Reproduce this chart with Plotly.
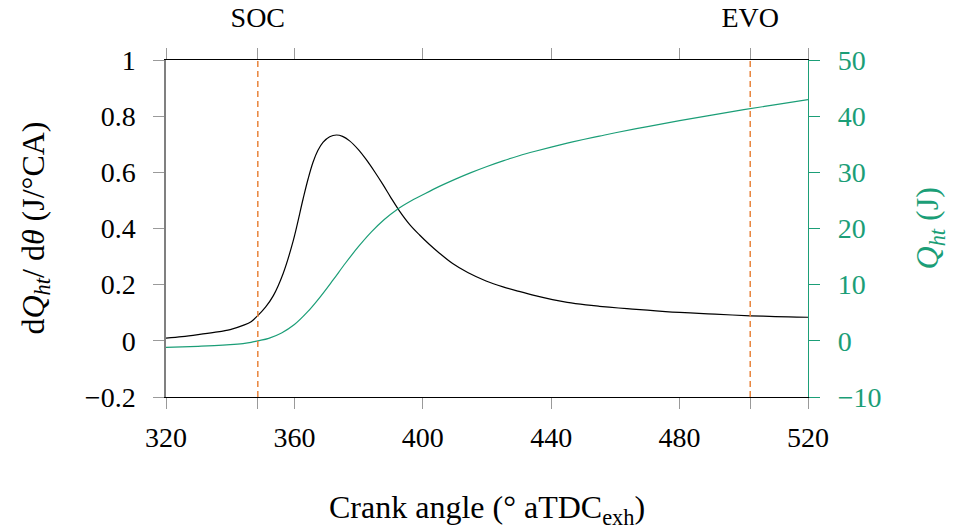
import plotly.graph_objects as go

# Crank angle grid and heat-transfer rate dQ_ht/dθ (J/°CA)
theta_rate = [320, 325, 330, 335, 340, 344, 346.5, 348.6, 351, 353.4, 356.5, 359.6,
              362.7, 364.3, 365.8, 367.3, 368.9, 371, 373.1, 375, 377.2, 380, 382.4,
              385, 387.6, 390, 392.7, 396, 399, 402, 405.2, 409.3, 414, 419.7, 425,
              430, 435, 440.4, 445, 450.8, 455, 461, 465.3, 470, 475.6, 480, 486, 491,
              496.4, 502, 508, 514, 520]
rate = [0.010, 0.015, 0.022, 0.030, 0.040, 0.055, 0.068, 0.090, 0.120, 0.160, 0.240,
        0.355, 0.505, 0.578, 0.636, 0.678, 0.707, 0.727, 0.733, 0.728, 0.712, 0.680,
        0.645, 0.602, 0.556, 0.511, 0.463, 0.413, 0.377, 0.344, 0.312, 0.275, 0.243,
        0.213, 0.192, 0.176, 0.161, 0.147, 0.137, 0.128, 0.123, 0.117, 0.113, 0.109,
        0.104, 0.101, 0.098, 0.095, 0.092, 0.089, 0.087, 0.085, 0.084]

# Cumulative heat transfer Q_ht (J)
theta_cum = [320, 325, 330, 335, 340, 344, 346.5, 348.6, 352, 356, 360, 364, 368, 372,
             376, 380, 384, 388, 392, 396, 400, 405, 410, 415, 420, 425, 430, 435, 440,
             445, 450, 455, 460, 470, 480, 490, 500, 510, 520]
q_cum = [-1.16, -1.07, -0.97, -0.85, -0.68, -0.48, -0.28, 0.0, 0.45, 1.4, 2.9, 5.1,
         7.8, 10.8, 13.9, 16.8, 19.4, 21.6, 23.4, 24.8, 26.0, 27.45, 28.75, 29.95,
         31.05, 32.05, 32.95, 33.75, 34.5, 35.2, 35.85, 36.45, 37.05, 38.15, 39.2,
         40.2, 41.15, 42.05, 42.95]

# Event markers: start of combustion and exhaust valve opening
soc_angle = 348.6
evo_angle = 502.0
event_angles = [soc_angle, evo_angle]
event_labels = ["SOC", "EVO"]

x_ticks = [320, 360, 400, 440, 480, 520]
x_tick_text = ["320", "360", "400", "440", "480", "520"]
y_left_ticks = [-0.2, 0, 0.2, 0.4, 0.6, 0.8, 1]
y_left_text = ["\u22120.2", "0", "0.2", "0.4", "0.6", "0.8", "1"]
y_right_ticks = [-10, 0, 10, 20, 30, 40, 50]
y_right_text = ["\u221210", "0", "10", "20", "30", "40", "50"]

FONT = "Liberation Serif"
GREEN = "#1b9e77"
ORANGE = "#e8843c"
TICK_GRAY = "#9a9a9a"
FS = 28
TITLE_FS = 32

fig = go.Figure()
fig.add_trace(go.Scatter(x=theta_rate, y=rate, mode="lines",
                         line=dict(color="black", width=1.2, shape="spline", smoothing=1.0),
                         xaxis="x", yaxis="y", showlegend=False))
fig.add_trace(go.Scatter(x=theta_cum, y=q_cum, mode="lines",
                         line=dict(color=GREEN, width=1.2, shape="spline", smoothing=1.0),
                         xaxis="x", yaxis="y2", showlegend=False))

for ang in event_angles:
    fig.add_shape(type="line", xref="x", yref="paper", x0=ang, x1=ang, y0=0, y1=1,
                  line=dict(color=ORANGE, width=1.5, dash="6px,4px"))

tick_style = dict(ticks="outside", ticklen=11, tickcolor=TICK_GRAY, tickwidth=1.3)
common_x = dict(range=[320, 520], showline=True, linecolor="black", linewidth=1.3,
                showgrid=False, zeroline=False, automargin=False,
                tickfont=dict(family=FONT, size=FS, color="black"), **tick_style)

fig.update_layout(
    width=959, height=532,
    margin=dict(l=166, r=151, t=60, b=135),
    paper_bgcolor="white", plot_bgcolor="white",
    font=dict(family=FONT, size=FS, color="black"),
    # bottom axis: numeric labels, unlabeled ticks at the event angles
    xaxis=dict(**common_x, tickvals=x_ticks, ticktext=x_tick_text, ticklabelstandoff=4,
               minor=dict(tickvals=event_angles, **tick_style)),
    # top axis: event labels, unlabeled ticks at the regular angles
    xaxis2=dict(**common_x, tickvals=event_angles, ticktext=event_labels,
                overlaying="x", side="top", anchor="y", ticklabelstandoff=10,
                minor=dict(tickvals=x_ticks, **tick_style)),
    yaxis=dict(range=[-0.2, 1], tickvals=y_left_ticks, ticktext=y_left_text,
               showline=True, linecolor="#808080", linewidth=1.5, showgrid=False,
               zeroline=False, ticklabelstandoff=12, automargin=False,
               tickfont=dict(family=FONT, size=FS, color="black"), **tick_style),
    yaxis2=dict(range=[-10, 50], tickvals=y_right_ticks, ticktext=y_right_text,
                overlaying="y", side="right", anchor="x",
                ticks="outside", ticklen=11, tickcolor=GREEN, tickwidth=1.3,
                showline=True, linecolor=GREEN, linewidth=1.3, showgrid=False,
                zeroline=False, ticklabelstandoff=12, automargin=False,
                tickfont=dict(family=FONT, size=FS, color=GREEN)),
)

# Hidden trace so the top axis is drawn
fig.add_trace(go.Scatter(x=[320, 520], y=[None, None], xaxis="x2", yaxis="y",
                         showlegend=False, hoverinfo="skip"))

fig.add_annotation(text="Crank angle (\u00b0 aTDC<sub>exh</sub>)", xref="paper", yref="paper",
                   x=0.5, y=-0.335, xanchor="center", yanchor="middle", showarrow=False,
                   font=dict(family=FONT, size=TITLE_FS))
fig.add_annotation(text="d<i>Q</i><sub><i>ht</i></sub>/ d<i>\u03b8</i> (J/\u00b0CA)",
                   xref="paper", yref="paper", x=-0.204, y=0.5, xanchor="center",
                   yanchor="middle", textangle=-90, showarrow=False,
                   font=dict(family=FONT, size=TITLE_FS))
fig.add_annotation(text="<i>Q</i><sub><i>ht</i></sub> (J)", xref="paper", yref="paper",
                   x=1.19, y=0.5, xanchor="center", yanchor="middle", textangle=-90,
                   showarrow=False, font=dict(family=FONT, size=TITLE_FS, color=GREEN))

fig.write_html("out.html")
